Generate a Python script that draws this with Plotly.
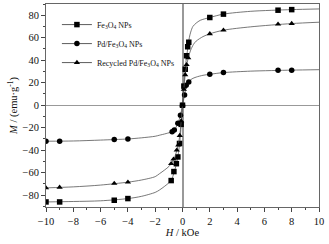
import plotly.graph_objects as go

# ---- data ----
series_names = ["Fe<sub>3</sub>O<sub>4</sub> NPs",
                "Pd/Fe<sub>3</sub>O<sub>4</sub> NPs",
                "Recycled Pd/Fe<sub>3</sub>O<sub>4</sub> NPs"]
symbols = ["square", "circle", "triangle-up"]

# measured points (markers)
fe_H = [-10, -9, -5, -4, -0.83, -0.63, -0.45, -0.34, -0.22, -0.1, 0, 0.1, 0.2, 0.3, 0.38, 0.46, 2, 3, 7, 8]
fe_M = [-86, -86, -84.5, -83, -67, -59, -52, -46, -34, -17, 0, 17, 32, 44, 52, 56, 78, 81, 84.5, 85]

pd_H = [-10, -9, -5, -4, -0.76, -0.6, -0.34, -0.15, 0, 0.15, 0.27, 0.46, 2, 3, 7, 8]
pd_M = [-32, -32, -30.5, -30, -23.7, -22, -16, -9, 0, 9, 17.8, 20.7, 27.5, 29, 31, 31.2]

re_H = [-10, -9, -5, -4, -0.83, -0.66, -0.42, -0.31, -0.2, -0.1, 0, 0.1, 0.2, 0.3, 0.42, 2, 3, 7, 8]
re_M = [-73.5, -73, -69.6, -68.4, -52, -48, -40, -35.5, -27, -14, 0, 14, 27, 36, 42, 63.5, 66.7, 72, 72.6]

# fitted curves (thin grey lines)
fe_fit_H = [-10, -8, -6, -4, -3, -2, -1.7, -1.3, -1, -0.83, -0.6, -0.4, -0.2, 0, 0.2, 0.4, 0.5, 0.6, 0.76, 1, 1.3, 2, 3, 5, 8, 10]
fe_fit_M = [-86, -85.6, -85, -83, -81, -77.5, -75.5, -72, -69, -67, -59, -50, -33, 0, 33, 52, 60, 65, 70, 73, 75.5, 78, 81, 83.5, 85, 85.6]

pd_fit_H = [-10, -8, -6, -4, -3, -2, -1.7, -1.2, -0.8, -0.6, -0.35, -0.15, 0, 0.15, 0.3, 0.46, 0.7, 1, 1.5, 2, 3, 5, 8, 10]
pd_fit_M = [-32, -31.8, -31, -30, -29, -27.6, -26.7, -25.2, -23.7, -22, -16.5, -9, 0, 9, 18, 21, 23.5, 25, 26.6, 27.5, 29, 30.3, 31.2, 31.6]

re_fit_H = [-10, -8, -6, -4, -3, -2, -1.7, -1.3, -1, -0.83, -0.6, -0.4, -0.2, 0, 0.2, 0.4, 0.6, 0.8, 1, 1.5, 2, 3, 5, 8, 10]
re_fit_M = [-73.5, -72.6, -71, -68.4, -66.5, -63.5, -61, -57.5, -54.5, -52, -47, -39.5, -27, 0, 27, 41, 49, 54, 57, 61, 63.5, 66.7, 69.7, 72.6, 73.8]

x_ticks = [-10, -8, -6, -4, -2, 0, 2, 4, 6, 8, 10]
y_ticks = [-80, -60, -40, -20, 0, 20, 40, 60, 80]

FONT = "Liberation Serif"
fig = go.Figure()

pts = [(fe_H, fe_M, fe_fit_H, fe_fit_M), (pd_H, pd_M, pd_fit_H, pd_fit_M), (re_H, re_M, re_fit_H, re_fit_M)]
for (h, m, fh, fm), name, sym in zip(pts, series_names, symbols):
    fig.add_trace(go.Scatter(x=fh, y=fm, mode="lines", line=dict(color="#555555", width=0.8, shape="spline", smoothing=0.8),
                             showlegend=False, hoverinfo="skip"))
    fig.add_trace(go.Scatter(x=h, y=m, mode="markers", marker=dict(symbol=sym, size=5.5, color="black"),
                             showlegend=False))
    # legend entry
    fig.add_trace(go.Scatter(x=[None], y=[None], mode="lines+markers", name=name,
                             marker=dict(symbol=sym, size=5.5, color="black"),
                             line=dict(color="#333333", width=0.8)))

axis_common = dict(showline=True, linecolor="#666666", linewidth=1, mirror=True,
                   ticks="outside", ticklen=4, tickwidth=1, tickcolor="#444444",
                   showgrid=False, zeroline=True, zerolinecolor="#999999",
                   tickfont=dict(family=FONT, size=10.5, color="#111111"))

fig.update_xaxes(range=[-10, 10], tickvals=x_ticks, zerolinewidth=2,
                 minor=dict(dtick=1, ticks="outside", ticklen=2, tickcolor="#444444"),
                 title=dict(text="<i>H</i> / kOe", font=dict(family=FONT, size=10.5, color="#111111"), standoff=0),
                 **axis_common)
fig.update_yaxes(range=[-90.5, 90], tickvals=y_ticks, zerolinewidth=1,
                 minor=dict(dtick=10, ticks="outside", ticklen=2, tickcolor="#444444"),
                 title=dict(text="<i>M</i> / (emu·g<sup>-1</sup>)", font=dict(family=FONT, size=10.5, color="#111111"), standoff=2),
                 **axis_common)

fig.update_layout(width=329, height=244, margin=dict(l=46, r=10, t=4, b=37),
                  plot_bgcolor="white", paper_bgcolor="white",
                  legend=dict(x=0.04, y=0.97, xanchor="left", yanchor="top", bgcolor="rgba(0,0,0,0)",
                              font=dict(family=FONT, size=8, color="#111111"), itemwidth=30,
                              tracegroupgap=0),
                  showlegend=True)

fig.write_html("out.html", config={"displayModeBar": False},
               post_script="document.body.style.margin='0';")
